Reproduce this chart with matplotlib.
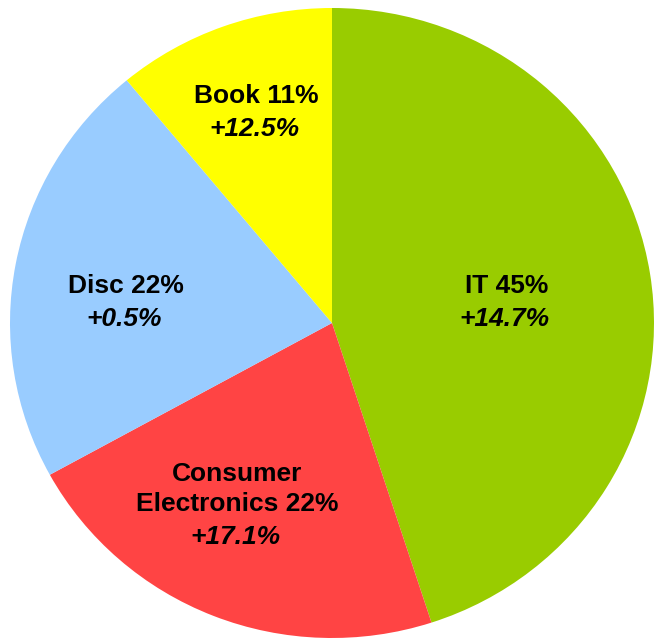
import numpy as np
import matplotlib.pyplot as plt

plt.rcParams['font.family'] = ['Liberation Sans', 'DejaVu Sans']

categories = ['IT', 'Consumer\nElectronics', 'Disc', 'Book']
shares = [45, 22, 22, 11]
growth = ['+14.7%', '+17.1%', '+0.5%', '+12.5%']
colors = ['#99CC00', '#FF4444', '#99CCFF', '#FFFF00']

# label placement: radius and angular nudge (degrees) from each wedge's middle
label_r = [0.54, 0.695, 0.65, 0.71]
label_nudge = [-2, -4, 5, 0]

fig = plt.figure(figsize=(6.54, 6.41), dpi=100)
ax = fig.add_axes([10 / 654, 3 / 641, 644 / 654, 630 / 641])

wedges, _ = ax.pie(shares, colors=colors, startangle=90, counterclock=False,
                   wedgeprops=dict(linewidth=0))
ax.set_aspect('auto')
ax.set_xlim(-1, 1)
ax.set_ylim(-1, 1)
ax.axis('off')

for w, name, pct, chg, r, nd in zip(wedges, categories, shares, growth, label_r, label_nudge):
    ang = np.deg2rad((w.theta1 + w.theta2) / 2 + nd)
    x, y = r * np.cos(ang), r * np.sin(ang)
    ax.text(x + 0.006, y + 0.015, f'{name} {pct}%', ha='center', va='bottom',
            fontsize=19, fontweight='bold', linespacing=1.3)
    ax.text(x, y - 0.015, chg, ha='center', va='top',
            fontsize=19, fontweight='bold', fontstyle='italic')

fig.savefig('out.png', dpi=100)
